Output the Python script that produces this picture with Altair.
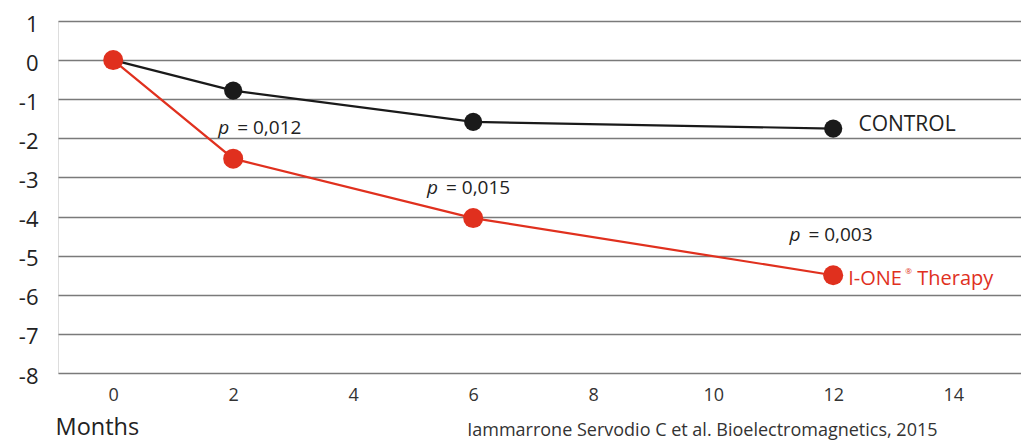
import altair as alt
import pandas as pd

months = [0, 2, 6, 12]
control = [0, -0.78, -1.58, -1.75]
therapy = [0, -2.52, -4.04, -5.5]
x_ticks = [0, 2, 4, 6, 8, 10, 12, 14]
y_ticks = [1, 0, -1, -2, -3, -4, -5, -6, -7, -8]

series_names = ["CONTROL", "I-ONE Therapy"]
series_colors = ["#1a1a1a", "#e0301e"]

p_labels = ["= 0,012", "= 0,015", "= 0,003"]
p_x = [1.75, 5.23, 11.27]
p_y = [-1.73, -3.26, -4.47]

rows = []
for m, c in zip(months, control):
    rows.append({"month": m, "value": c, "series": "CONTROL"})
for m, t in zip(months, therapy):
    rows.append({"month": m, "value": t, "series": "I-ONE Therapy"})
df = pd.DataFrame(rows)

FONT = "Open Sans"

xscale = alt.Scale(domain=[-0.92, 15.13], nice=False, zero=False)
yscale = alt.Scale(domain=[-8, 1], nice=False, zero=False)
cscale = alt.Scale(domain=series_names, range=series_colors)

x_axis = alt.Axis(values=x_ticks, grid=False, ticks=False, domain=False,
                  labelFontSize=18, labelColor="#333", labelPadding=13,
                  labelFont=FONT, labelExpr="'' + datum.value",
                  title="Months", titleFont=FONT,
                  titleFontSize=23.5, titleFontWeight="normal", titleColor="#222",
                  titleAnchor="start", titleAlign="left", titleX=-3, titleY=61,
                  titleBaseline="alphabetic")
y_axis = alt.Axis(values=y_ticks, grid=True, gridColor="#7a7a7a", gridWidth=1.5,
                  ticks=False, domain=False, labelFontSize=22, labelColor="#222",
                  labelPadding=20, labelFont=FONT, labelOffset=3,
                  labelExpr="'' + datum.value", title=None)

def xq(f):
    return alt.X(f, scale=xscale, axis=x_axis, title="Months")

def yq(f):
    return alt.Y(f, scale=yscale, axis=y_axis, title=None)

base = alt.Chart(df)

lines = base.mark_line(strokeWidth=2.2).encode(
    x=xq("month:Q"), y=yq("value:Q"),
    color=alt.Color("series:N", scale=cscale, legend=None),
    detail="series:N",
    order="month:Q",
)

black_pts = base.transform_filter(alt.datum.series == "CONTROL").mark_circle(
    size=330, opacity=1, color="#1a1a1a").encode(x=xq("month:Q"), y=yq("value:Q"))
red_pts = base.transform_filter(alt.datum.series == "I-ONE Therapy").mark_circle(
    size=400, opacity=1, color="#e0301e").encode(x=xq("month:Q"), y=yq("value:Q"))

pdf = pd.DataFrame({"x": p_x, "y": p_y, "t": p_labels})
p_italic = alt.Chart(pdf).mark_text(text="p", font=FONT, fontSize=19, fontStyle="italic",
                                     align="left", baseline="middle", color="#222").encode(
    x=xq("x:Q"), y=yq("y:Q"))
p_rest = alt.Chart(pdf).mark_text(font=FONT, fontSize=19, align="left", baseline="middle",
                                   color="#222", dx=19).encode(x=xq("x:Q"), y=yq("y:Q"), text="t:N")

lab = pd.DataFrame({"x": [12.42], "y": [-1.65], "t": ["CONTROL"]})
control_lab = alt.Chart(lab).mark_text(font=FONT, fontSize=21, align="left", baseline="middle",
                                        color="#222").encode(x=xq("x:Q"), y=yq("y:Q"), text="t:N")

lab2 = pd.DataFrame({"x": [12.25], "y": [-5.6]})
ione = alt.Chart(lab2).mark_text(text="I-ONE", font=FONT, fontSize=20, align="left",
                                  baseline="middle", color="#e0301e").encode(x=xq("x:Q"), y=yq("y:Q"))
reg = alt.Chart(lab2).mark_text(text="®", font=FONT, fontSize=8, align="left",
                                 baseline="middle", color="#e0301e", dx=57, dy=-7).encode(
    x=xq("x:Q"), y=yq("y:Q"))
ther = alt.Chart(lab2).mark_text(text="Therapy", font=FONT, fontSize=20, align="left",
                                  baseline="middle", color="#e0301e", dx=69).encode(
    x=xq("x:Q"), y=yq("y:Q"))

cit = pd.DataFrame({"x": [5.9], "y": [-9.62], "t": ["Iammarrone Servodio C et al. Bioelectromagnetics, 2015"]})
citation = alt.Chart(cit).mark_text(font=FONT, fontSize=18, align="left", baseline="alphabetic",
                                     color="#333").encode(x=xq("x:Q"), y=yq("y:Q"), text="t:N")

chart = alt.layer(lines, black_pts, red_pts, p_italic, p_rest, control_lab, ione, reg, ther,
                  citation).properties(
    width=963, height=352,
    autosize=alt.AutoSizeParams(type="none"),
    padding={"left": 50, "top": 13, "right": 0, "bottom": 68},
).configure_view(stroke=None).configure(background="white")

chart.save("out.html", embed_options={"renderer": "svg", "actions": False})
